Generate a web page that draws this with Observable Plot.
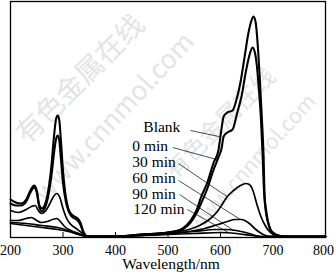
<!DOCTYPE html>
<html>
<head>
<meta charset="utf-8">
<script src="https://cdn.jsdelivr.net/npm/d3@7"></script>
<script src="https://cdn.jsdelivr.net/npm/@observablehq/plot@0.6"></script>
<style>
  html, body { margin: 0; padding: 0; background: #fff; }
  #chart svg { display: block; }
</style>
</head>
<body>
<div id="chart"></div>
<script>
// Wavelength (nm) / absorbance (a.u.) pairs
const blank = [[200,0.38],[210,0.35],[220,0.34],[230,0.38],[238,0.47],[245,0.52],[250,0.47],[255,0.32],[260,0.29],[265,0.32],[272,0.47],[278,0.72],[283,1.02],[287,1.19],[290,1.22],[293,1.17],[296,0.97],[300,0.67],[305,0.42],[310,0.29],[315,0.24],[322,0.21],[328,0.19],[333,0.15],[338,0.07],[343,0.02],[350,0.01],[400,0.01],[450,0.03],[500,0.05],[520,0.07],[530,0.10],[543,0.17],[555,0.28],[562,0.39],[575,0.55],[587,0.75],[596,0.87],[602,1.09],[606,1.21],[613,1.25],[623,1.27],[630,1.37],[638,1.55],[646,1.81],[653,2.04],[659,2.17],[663,2.21],[667,2.15],[671,1.92],[675,1.57],[679,1.17],[682,0.82],[684,0.42],[687,0.27],[690,0.17],[695,0.08],[702,0.04],[710,0.02],[724,0.01],[800,0.01]];
const min0 = [[200,0.34],[210,0.32],[220,0.32],[230,0.36],[238,0.45],[245,0.50],[250,0.45],[255,0.30],[260,0.26],[265,0.29],[272,0.42],[278,0.62],[283,0.85],[287,0.99],[290,1.02],[293,0.97],[296,0.79],[300,0.55],[305,0.37],[310,0.27],[315,0.22],[322,0.19],[328,0.17],[333,0.13],[338,0.06],[343,0.02],[350,0.01],[400,0.01],[450,0.03],[500,0.05],[520,0.07],[530,0.09],[543,0.15],[555,0.25],[562,0.33],[575,0.49],[587,0.68],[596,0.80],[602,0.89],[606,1.01],[613,1.05],[623,1.08],[632,1.25],[640,1.41],[648,1.65],[655,1.82],[661,1.90],[665,1.86],[669,1.73],[673,1.49],[677,1.19],[680,0.85],[683,0.45],[686,0.27],[690,0.16],[695,0.08],[702,0.04],[710,0.02],[724,0.01],[800,0.01]];
const min30 = [[200,0.27],[215,0.25],[230,0.28],[240,0.31],[247,0.32],[253,0.27],[259,0.24],[266,0.26],[275,0.34],[282,0.41],[288,0.44],[294,0.40],[300,0.29],[307,0.19],[315,0.13],[325,0.09],[335,0.05],[343,0.02],[350,0.01],[400,0.01],[450,0.03],[500,0.05],[540,0.08],[560,0.12],[581,0.19],[594,0.26],[603,0.33],[613,0.41],[625,0.47],[638,0.52],[648,0.54],[655,0.53],[661,0.48],[670,0.32],[677,0.21],[685,0.12],[695,0.05],[705,0.02],[720,0.01],[800,0.01]];
const min60 = [[200,0.17],[215,0.17],[230,0.19],[240,0.20],[250,0.17],[258,0.15],[270,0.16],[280,0.18],[288,0.19],[295,0.16],[303,0.11],[315,0.07],[330,0.04],[345,0.01],[400,0.01],[450,0.02],[500,0.04],[540,0.06],[570,0.09],[595,0.13],[613,0.16],[628,0.18],[640,0.18],[655,0.14],[665,0.09],[675,0.05],[686,0.02],[700,0.01],[800,0.01]];
const min90 = [[200,0.15],[230,0.14],[260,0.12],[290,0.10],[310,0.07],[330,0.03],[350,0.01],[450,0.02],[500,0.04],[550,0.06],[590,0.08],[610,0.08],[630,0.07],[655,0.04],[675,0.01],[800,0.01]];
const min120 = [[200,0.14],[230,0.12],[260,0.10],[290,0.08],[310,0.06],[330,0.03],[350,0.01],[450,0.02],[500,0.03],[550,0.04],[600,0.05],[630,0.04],[660,0.02],[680,0.01],[800,0.01]];

const seriesNames = ["Blank", "0 min", "30 min", "60 min", "90 min", "120 min"];
const seriesData = [blank, min0, min30, min60, min90, min120];
const xTicks = [200, 300, 400, 500, 600, 700];
const xTickLast = [800];
const xLabel = "Wavelength/nm";

// label anchors (nm, a.u.) and leader line ends
const labelX = [453, 432, 432, 432, 432, 434];
const labelY = [1.105, 0.915, 0.755, 0.595, 0.435, 0.285];
const leaderFrom = [[543,1.07],[509,0.90],[520,0.74],[520,0.57],[522,0.43],[537,0.28]];
const leaderTo = [[597,1.01],[593,0.78],[612,0.41],[638,0.18],[625,0.07],[615,0.05]];

const watermark = ["有色金属在线", "www.cnnmol.com", "有色金属在线", "www.cnnmol.com"];

const rows = seriesData.flatMap((s, i) => s.map(([x, y]) => ({series: seriesNames[i], x, y})));
const labels = seriesNames.map((name, i) => ({name, x: labelX[i], y: labelY[i]}));
const leaders = seriesNames.map((name, i) => ({x1: leaderFrom[i][0], y1: leaderFrom[i][1], x2: leaderTo[i][0], y2: leaderTo[i][1]}));

const wm = [
  {t: watermark[0], dx: 70, dy: 78, r: -45, fs: 28},
  {t: watermark[1], dx: 104, dy: 116, r: -47, fs: 26},
  {t: watermark[2], dx: 210, dy: 122, r: -45, fs: 24},
  {t: watermark[3], dx: 242, dy: 162, r: -48, fs: 21}
];

const chart = Plot.plot({
  width: 334,
  height: 276,
  marginTop: 1,
  marginBottom: 39,
  marginLeft: 10,
  marginRight: 9,
  style: {fontFamily: "Liberation Serif, Times New Roman, serif", background: "#fff", color: "#000"},
  x: {domain: [200, 800]},
  y: {domain: [0, 2.36], axis: null},
  marks: [
    ...wm.map(w => Plot.text([w.t], {frameAnchor: "top-left", textAnchor: "middle", lineAnchor: "middle", dx: w.dx, dy: w.dy, rotate: w.r, fontSize: w.fs, fill: "#e4e4e4", fontFamily: "Noto Sans CJK SC, DejaVu Sans, sans-serif"})),
    Plot.ruleX([...xTicks, ...xTickLast], {x: d => d, y1: 0, y2: 0.05, stroke: "#000", strokeWidth: 1}),
    Plot.axisX({ticks: xTicks, tickSize: 0, tickPadding: 8, fontSize: 14, tickFormat: d => String(d), label: null}),
    Plot.axisX({ticks: xTickLast, tickSize: 0, tickPadding: 8, fontSize: 14, dx: -2, tickFormat: d => String(d), label: null}),
    Plot.line(rows, {x: "x", y: "y", z: "series", curve: "monotone-x", stroke: "#000",
      strokeWidth: d => (d.series === "Blank" || d.series === "0 min") ? 2.1 : 1.7}),
    Plot.link(leaders, {x1: "x1", y1: "y1", x2: "x2", y2: "y2", stroke: "#000", strokeWidth: 0.7}),
    Plot.text(labels, {x: "x", y: "y", text: "name", textAnchor: "start", fontSize: 15.5, fill: "#000"}),
    Plot.text([xLabel], {frameAnchor: "bottom", dx: 3, dy: 31.5, fontSize: 15.5, fill: "#000"}),
    Plot.frame({stroke: "#000", strokeWidth: 1.3})
  ]
});
document.getElementById("chart").appendChild(chart);
</script>
</body>
</html>
